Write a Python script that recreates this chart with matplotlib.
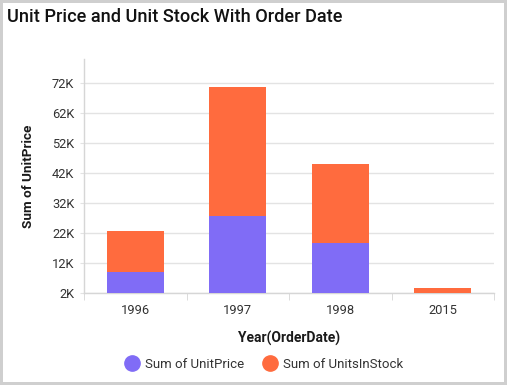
import numpy as np
import matplotlib.pyplot as plt
from matplotlib.lines import Line2D
from matplotlib.patches import Rectangle

plt.rcParams["font.family"] = ["Roboto", "DejaVu Sans"]

years = ["1996", "1997", "1998", "2015"]
unit_price = [8900, 27600, 18800, 0]
units_in_stock = [13900, 43100, 26100, 3700]
y_ticks = [2000, 12000, 22000, 32000, 42000, 52000, 62000, 72000]
y_tick_labels = ["2K", "12K", "22K", "32K", "42K", "52K", "62K", "72K"]

purple = "#806cf6"
orange = "#ff6b3e"
grid_col = "#e3e3e3"
text_col = "#333333"

fig = plt.figure(figsize=(5.07, 3.85), dpi=100)
ax = fig.add_axes([84 / 507, 92 / 385, 410 / 507, 234 / 385])

x = np.arange(len(years))
ax.bar(x, unit_price, width=0.56, color=purple, zorder=3)
ax.bar(x, units_in_stock, width=0.56, bottom=unit_price, color=orange, zorder=3)

ax.set_xlim(-0.5, len(years) - 0.5)
ax.set_ylim(2000, 80000)
ax.set_yticks(y_ticks)
ax.set_yticklabels(y_tick_labels)
ax.set_xticks(x)
ax.set_xticklabels(years)
ax.set_xticks(np.arange(-0.5, len(years)), minor=True)

ax.grid(axis="y", color=grid_col, linewidth=1, zorder=0)
for side in ["top", "right"]:
    ax.spines[side].set_visible(False)
for side in ["left", "bottom"]:
    ax.spines[side].set_color("#d6d6d6")
    ax.spines[side].set_linewidth(1)

ax.tick_params(axis="y", length=3, color=grid_col, labelsize=9.3, labelcolor=text_col, pad=4)
ax.tick_params(axis="x", which="major", length=0, labelsize=9.3, labelcolor=text_col, pad=8)
ax.tick_params(axis="x", which="minor", length=5, color="#d6d6d6")

ax.set_xlabel("Year(OrderDate)", fontsize=10, fontweight="bold", color="#1a1a1a", labelpad=10)
ax.set_ylabel("Sum of UnitPrice", fontsize=9.7, fontweight="bold", color="#1a1a1a", labelpad=12)

fig.text(7 / 507, 1 - 17 / 385, "Unit Price and Unit Stock With Order Date",
         fontsize=13.1, fontweight="medium", color="#111111", va="center", ha="left")

handles = [
    Line2D([], [], marker="o", linestyle="none", markersize=11, color=purple),
    Line2D([], [], marker="o", linestyle="none", markersize=11, color=orange),
]
fig.legend(handles, ["Sum of UnitPrice", "Sum of UnitsInStock"], loc="center",
           bbox_to_anchor=(261 / 507, 1 - 364 / 385), ncol=2, frameon=False,
           fontsize=9.5, handletextpad=0.0, columnspacing=1.0, labelcolor=text_col)

fig.patches.append(Rectangle((0, 0), 1, 1, transform=fig.transFigure, fill=False,
                             edgecolor="#cfcfcf", linewidth=4.3))

fig.savefig("out.png", dpi=100)
